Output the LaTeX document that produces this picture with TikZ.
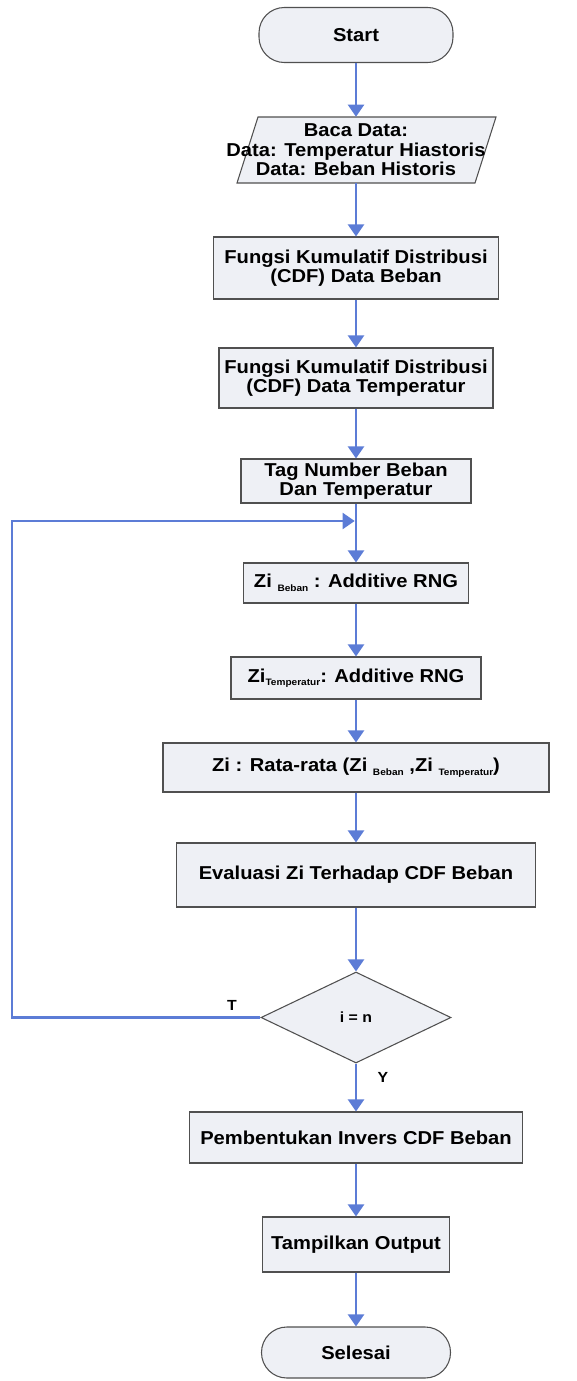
\documentclass[tikz,border=0pt]{standalone}
\usepackage{fontspec}
\setmainfont{Liberation Sans}[FakeStretch=1.08]
\usetikzlibrary{arrows.meta,shapes.geometric}
\definecolor{flow}{RGB}{92,124,214}
\definecolor{boxfill}{RGB}{238,240,245}
\definecolor{boxline}{RGB}{80,80,80}
\newcommand{\lowsub}[1]{\raisebox{-0.35ex}{\fontsize{7}{8}\selectfont #1}}
\begin{document}
\begin{tikzpicture}[x=0.75pt,y=-0.75pt,
  every node/.style={font=\fontsize{14}{14.5}\selectfont\bfseries, align=center, inner sep=0pt},
  procbox/.style={draw=boxline, line width=0.8pt, fill=boxfill, rectangle},
  termbox/.style={procbox, rounded corners=19pt},
  decbox/.style={draw=boxline, line width=0.8pt, fill=boxfill, diamond, font=\fontsize{11}{12}\selectfont\bfseries},
  lbl/.style={font=\fontsize{11}{12}\selectfont\bfseries},
  flowline/.style={draw=flow, line width=1.6pt, -{Triangle[width=12pt,length=9pt]}},
]
\useasboundingbox (0,0) rectangle (577,1381);

\node[termbox, minimum width=145.5pt, minimum height=41.25pt] (start) at (356,35) {Start};

\draw[procbox] (258,117) -- (496,117) -- (475,183) -- (237,183) -- cycle;
\node[minimum height=49.5pt] (baca) at (356,150) {Baca Data:\\Data: Temperatur Hiastoris\\Data: Beban Historis};

\node[procbox, minimum width=213.75pt, minimum height=46.5pt] (cdfb) at (356,268) {Fungsi Kumulatif Distribusi\\(CDF) Data Beban};
\node[procbox, minimum width=205.5pt, minimum height=45pt] (cdft) at (356,378) {Fungsi Kumulatif Distribusi\\(CDF) Data Temperatur};
\node[procbox, minimum width=172.5pt, minimum height=33pt] (tag) at (356,481) {Tag Number Beban\\Dan Temperatur};
\node[procbox, minimum width=168.75pt, minimum height=30pt] (zib) at (356,583) {Zi \lowsub{Beban} : Additive RNG};
\node[procbox, minimum width=187.5pt, minimum height=31.5pt] (zit) at (356,678) {Zi\lowsub{Temperatur}: Additive RNG};
\node[procbox, minimum width=289.5pt, minimum height=36.75pt] (rata) at (356,767.5) {Zi : Rata-rata (Zi \lowsub{Beban} ,Zi \lowsub{Temperatur})};
\node[procbox, minimum width=269.25pt, minimum height=48pt] (eval) at (356,875) {Evaluasi Zi Terhadap CDF Beban};
\node[decbox, minimum width=142.5pt, minimum height=68.25pt] (dec) at (356,1017.5) {i = n};
\node[procbox, minimum width=249.75pt, minimum height=38.25pt] (pemb) at (356,1137.5) {Pembentukan Invers CDF Beban};
\node[procbox, minimum width=140.25pt, minimum height=41.25pt] (tamp) at (356,1244.5) {Tampilkan Output};
\node[termbox, minimum width=141.75pt, minimum height=38.25pt] (end) at (356,1352.5) {Selesai};

\node[lbl] (tl) at (232,1005) {T};
\node[lbl] (yl) at (383,1077) {Y};

\coordinate (lc1) at (12,1017.5);
\coordinate (lc2) at (12,521);
\coordinate (lj) at (356,521);

\draw[flowline] (start) -- (baca);
\draw[flowline] (baca) -- (cdfb);
\draw[flowline] (cdfb) -- (cdft);
\draw[flowline] (cdft) -- (tag);
\draw[flowline] (tag) -- (zib);
\draw[flowline] (zib) -- (zit);
\draw[flowline] (zit) -- (rata);
\draw[flowline] (rata) -- (eval);
\draw[flowline] (eval) -- (dec);
\draw[flowline] (dec) -- (pemb);
\draw[flowline] (pemb) -- (tamp);
\draw[flowline] (tamp) -- (end);
\draw[flowline, shorten >=1pt] (dec.west) -- (lc1) -- (lc2) -- (lj);
\end{tikzpicture}
\end{document}
